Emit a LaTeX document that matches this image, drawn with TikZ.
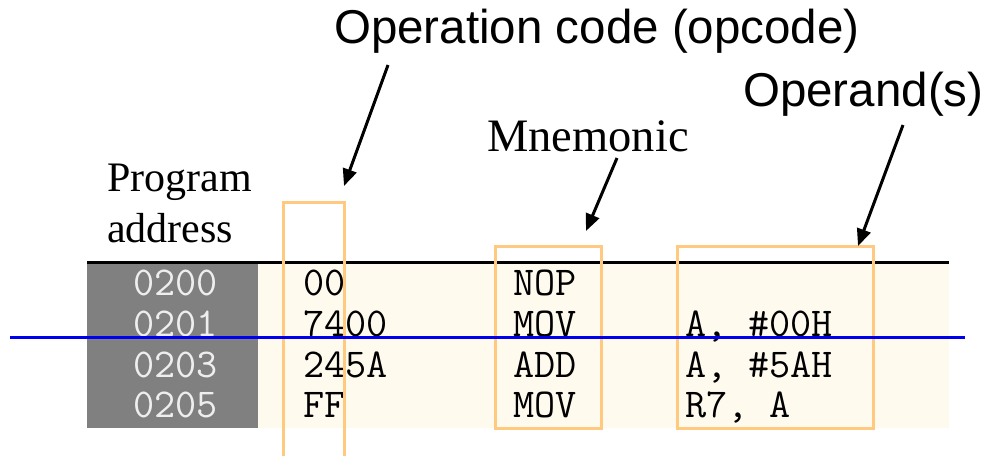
\documentclass[tikz,border=0pt]{standalone}
\usepackage{fontspec}
\setmainfont{Liberation Serif}
\newfontfamily\arialf{Liberation Sans}
\usetikzlibrary{arrows.meta}
\definecolor{cream}{HTML}{FFFAEE}
\definecolor{grayfill}{HTML}{808080}
\definecolor{orng}{HTML}{FFCA80}
\definecolor{addrc}{HTML}{EEEEEE}
\definecolor{blueline}{HTML}{0000F0}
\begin{document}
\begin{tikzpicture}[x=1pt,y=-1pt,
  lbl/.style={inner sep=0pt,anchor=base west},
  arial/.style={lbl,font=\arialf\fontsize{47.5}{50}\selectfont},
  times/.style={lbl,font=\fontsize{46.5}{50}\selectfont},
  code/.style={lbl,font=\ttfamily\fontsize{41}{41}\selectfont},
  addr/.style={code,text=addrc},
  box/.style={draw=orng,line width=3pt},
  ptr/.style={line width=3pt,-{Triangle[length=17pt,width=14pt]}},
]
\useasboundingbox (0,0) rectangle (985,456);
% table
\fill[cream] (258,263) rectangle (949,428);
\fill[grayfill] (87,263) rectangle (258,428);
\draw[line width=3pt] (87,262) -- (949,262);
% rows
\node[addr] (a1) at (133,295) {0200};
\node[addr] (a2) at (133,336) {0201};
\node[addr] (a3) at (133,377) {0203};
\node[addr] (a4) at (133,417) {0205};
\node[code] (o1) at (303,295) {00};
\node[code] (o2) at (303,336) {7400};
\node[code] (o3) at (303,377) {245A};
\node[code] (o4) at (303,417) {FF};
\node[code] (m1) at (513,295) {NOP};
\node[code] (m2) at (513,336) {MOV};
\node[code] (m3) at (513,377) {ADD};
\node[code] (m4) at (513,417) {MOV};
\node[code] (p2) at (685,336) {A, \#00H};
\node[code] (p3) at (685,377) {A, \#5AH};
\node[code] (p4) at (685,417) {R7, A};
% orange boxes
\draw[box] (283,456) -- (283,202) -- (344,202) -- (344,456);
\draw[box] (495,246) rectangle (601,428);
\draw[box] (677,246) rectangle (873,428);
% labels
\node[arial] (opc) at (334,43) {Operation code (opcode)};
\node[arial] (opd) at (743,106) {Operand(s)};
\node[times] (mne) at (487,151) {Mnemonic};
\node[lbl,font=\fontsize{42}{51}\selectfont,align=left,anchor=north west] (prg) at (107,164) {Program\\address};
% arrows
\coordinate (opcS) at (388,65);
\coordinate (opcT) at (344,186);
\coordinate (mneS) at (617,158);
\coordinate (mneT) at (586,231);
\coordinate (opdS) at (903,125);
\coordinate (opdT) at (858,246);
\draw[ptr] (opcS) -- (opcT);
\draw[ptr] (mneS) -- (mneT);
\draw[ptr] (opdS) -- (opdT);
% blue line
\coordinate (bl) at (10,337);
\coordinate (br) at (965,337);
\draw[blueline,line width=3pt] (bl) -- (br);
\end{tikzpicture}
\end{document}
